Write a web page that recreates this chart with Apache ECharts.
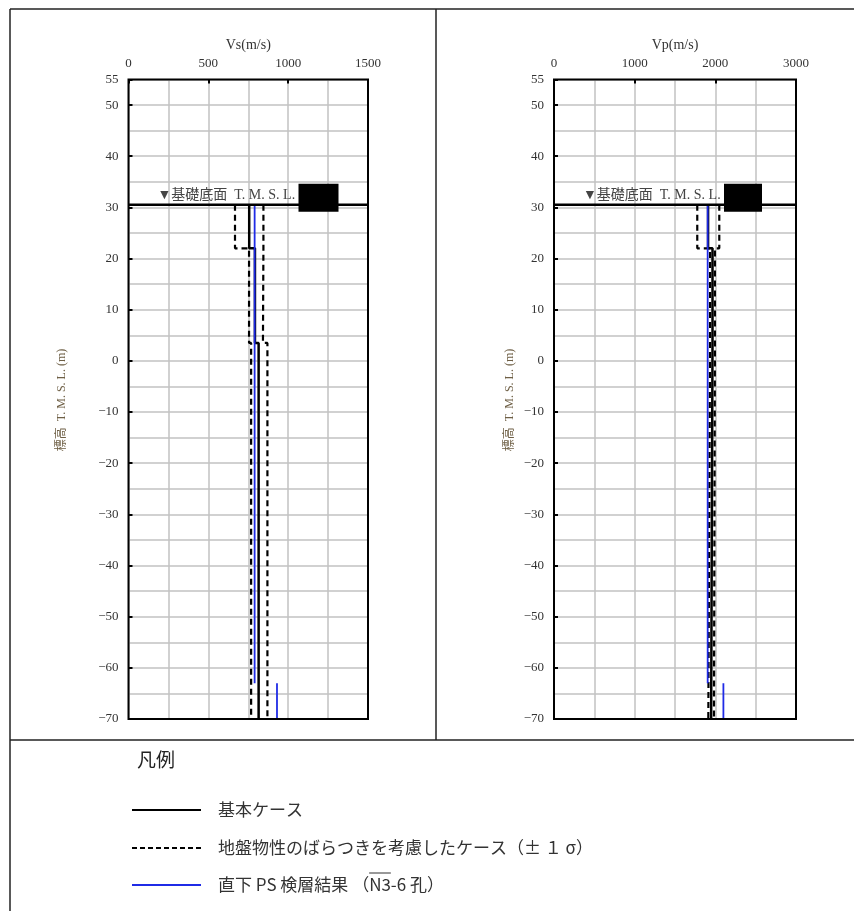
<!DOCTYPE html>
<html>
<head>
<meta charset="utf-8">
<script src="https://cdn.jsdelivr.net/npm/echarts@6/dist/echarts.min.js"></script>
<style>
html, body { margin: 0; padding: 0; background: #fff; }
#c { width: 854px; height: 911px; }
</style>
</head>
<body>
<div id="c"></div>
<script>
// Ground model layers, elevation T.M.S.L. (m)
const foundationLevel = 30.5;
const layerTops = [30.5, 22.0, 3.5];
const modelBottom = -70;

// Shear-wave velocity Vs (m/s) per layer
const vsBase  = [756, 792, 815];
const vsMinus = [667, 755, 768];
const vsPlus  = [845, 842, 870];

// P-wave velocity Vp (m/s) per layer
const vpBase  = [1910, 1965, 1948];
const vpMinus = [1776, 1935, 1913];
const vpPlus  = [2049, 1995, 1983];

// PS logging directly below (N3-6 borehole): interval tops / bottoms and values
const psTops    = [30.5, -63];
const psBottoms = [-63, -70];
const psVs = [790, 930];
const psVp = [1905, 2100];

// Axis ranges and labelled ticks
const vsRange = [0, 1500];
const vpRange = [0, 3000];
const depthRange = [-70, 55];
const depthTicks = [55, 50, 40, 30, 20, 10, 0, -10, -20, -30, -40, -50, -60, -70];

const LATIN = 'Liberation Serif';
const LABEL_FONT = '"Liberation Serif", "Noto Sans CJK JP"';
const JP = '"Noto Sans CJK JP"';

function stepProfile(vals) {
  const pts = [];
  vals.forEach((v, i) => {
    const top = layerTops[i];
    const bot = i + 1 < layerTops.length ? layerTops[i + 1] : modelBottom;
    pts.push([v, top], [v, bot]);
  });
  return pts;
}

function segments(tops, bots, vals) {
  const pts = [];
  vals.forEach((v, i) => {
    if (i) pts.push(['-', '-']);
    pts.push([v, tops[i]], [v, bots[i]]);
  });
  return pts;
}

const grids = [
  { left: 128.5, top: 79.5, width: 239.5, height: 639.5 },
  { left: 554, top: 79.5, width: 242, height: 639.5 }
];

const gridLine = { color: '#c2c2c2', width: 1.5 };

function xAxisFor(i, range, name) {
  return {
    gridIndex: i, type: 'value', position: 'top',
    min: range[0], max: range[1], interval: range[1] / 3,
    name: name, nameLocation: 'middle', nameGap: 27,
    nameTextStyle: { fontFamily: LATIN, fontSize: 14, color: '#333' },
    axisLine: { show: false, onZero: false },
    axisTick: { show: true, inside: true, length: 4, lineStyle: { color: '#000', width: 2 } },
    axisLabel: { fontFamily: LATIN, fontSize: 13, color: '#333', margin: 9,
      formatter: v => String(v) },
    splitLine: { show: true, lineStyle: gridLine },
    minorTick: { show: false, splitNumber: 2 },
    minorSplitLine: { show: true, lineStyle: gridLine }
  };
}

function yAxisFor(i) {
  return {
    gridIndex: i, type: 'value', position: 'left',
    min: depthRange[0], max: depthRange[1], interval: 5,
    axisLine: { show: false, onZero: false },
    axisTick: { show: false },
    axisLabel: {
      fontFamily: LATIN, fontSize: 13, color: '#333', margin: 10,
      formatter: v => depthTicks.indexOf(v) >= 0 ? String(v).replace('-', '\u2212') : ''
    },
    splitLine: { show: true, lineStyle: gridLine }
  };
}

// tick marks only at labelled elevations
function yTickAxisFor(i) {
  return {
    gridIndex: i, type: 'value', position: 'left', offset: 0,
    min: depthRange[0], max: depthRange[1],
    axisLine: { show: false, onZero: false },
    axisLabel: { show: false },
    splitLine: { show: false },
    axisTick: { show: true, inside: true, length: 4, customValues: depthTicks,
      lineStyle: { color: '#000', width: 2 } }
  };
}

function seriesFor(i, base, minus, plus, ps, range) {
  const common = { type: 'line', xAxisIndex: i, yAxisIndex: i, symbol: 'none',
    animation: false, silent: true };
  const dashed = { color: '#000', width: 2.2, type: [6, 4] };
  return [
    Object.assign({}, common, { name: '地盤物性のばらつきを考慮したケース（±１σ）',
      data: stepProfile(minus), lineStyle: dashed, z: 3 }),
    Object.assign({}, common, { name: '地盤物性のばらつきを考慮したケース（±１σ）',
      data: stepProfile(plus), lineStyle: dashed, z: 3 }),
    Object.assign({}, common, { name: '基本ケース',
      data: stepProfile(base), lineStyle: { color: '#000', width: 2.5 }, z: 4 }),
    Object.assign({}, common, { name: '直下PS検層結果',
      data: segments(psTops, psBottoms, ps), connectNulls: false,
      lineStyle: { color: '#1f2be6', width: 1.8 }, z: 5 }),
    Object.assign({}, common, { name: '基礎底面',
      data: [[range[0], foundationLevel], [range[1], foundationLevel]],
      lineStyle: { color: '#000', width: 2.5 }, z: 6 })
  ];
}

const chart = echarts.init(document.getElementById('c'), null, { renderer: 'canvas' });

chart.setOption({
  backgroundColor: '#fff',
  animation: false,
  grid: grids.map(g => Object.assign({ show: false }, g)),
  xAxis: [xAxisFor(0, vsRange, 'Vs(m/s)'), xAxisFor(1, vpRange, 'Vp(m/s)')],
  yAxis: [yAxisFor(0), yAxisFor(1), yTickAxisFor(0), yTickAxisFor(1)],
  series: [].concat(
    seriesFor(0, vsBase, vsMinus, vsPlus, psVs, vsRange),
    seriesFor(1, vpBase, vpMinus, vpPlus, psVp, vpRange)
  )
});

// Overlay: page frame, plot borders, foundation labels, axis titles, legend
const frame = { stroke: '#222', lineWidth: 1.5 };
const graphics = [
  { type: 'line', shape: { x1: 10, y1: 9, x2: 854, y2: 9 }, style: frame, silent: true },
  { type: 'line', shape: { x1: 10, y1: 9, x2: 10, y2: 911 }, style: frame, silent: true },
  { type: 'line', shape: { x1: 436, y1: 9, x2: 436, y2: 740 }, style: frame, silent: true },
  { type: 'line', shape: { x1: 10, y1: 740, x2: 854, y2: 740 }, style: frame, silent: true }
];

[0, 1].forEach(i => {
  const g = grids[i];
  graphics.push({
    type: 'rect', silent: true, z: 20,
    shape: { x: g.left, y: g.top, width: g.width, height: g.height },
    style: { fill: null, stroke: '#000', lineWidth: 2 }
  });

  // foundation label and masked elevation figure
  const p = chart.convertToPixel({ gridIndex: i }, [0, foundationLevel]);
  graphics.push({
    type: 'text', silent: true, z: 10,
    style: { x: g.left + 29, y: p[1] - 3, text: '▼基礎底面  T. M. S. L.', fill: '#444',
      font: '14px ' + LABEL_FONT, textAlign: 'left', textVerticalAlign: 'bottom' }
  });
  graphics.push({
    type: 'rect', silent: true, z: 11,
    shape: { x: g.left + 170, y: p[1] - 21, width: i ? 38 : 40, height: 28 },
    style: { fill: '#000' }
  });
});

// elevation axis titles
[62, 510].forEach(x => {
  graphics.push({
    type: 'text', silent: true, x: x, y: 400, rotation: Math.PI / 2,
    style: { x: 0, y: 0, text: '標高  T. M. S. L. (m)', fill: '#6e5f45',
      font: '12px ' + LABEL_FONT, textAlign: 'center', textVerticalAlign: 'middle' }
  });
});

// legend
const legendFont = '17px ' + JP;
graphics.push(
  { type: 'text', silent: true,
    style: { x: 137, y: 760, text: '凡例', fill: '#222', font: '19px ' + JP,
      textAlign: 'left', textVerticalAlign: 'middle' } },
  { type: 'line', silent: true, shape: { x1: 132, y1: 810, x2: 201, y2: 810 },
    style: { stroke: '#000', lineWidth: 2 } },
  { type: 'text', silent: true,
    style: { x: 218, y: 810, text: '基本ケース', fill: '#333', font: legendFont,
      textAlign: 'left', textVerticalAlign: 'middle' } },
  { type: 'line', silent: true, shape: { x1: 132, y1: 848, x2: 201, y2: 848 },
    style: { stroke: '#000', lineWidth: 2, lineDash: [5, 3] } },
  { type: 'text', silent: true,
    style: { x: 218, y: 848, text: '地盤物性のばらつきを考慮したケース（± １ σ）', fill: '#333',
      font: legendFont, textAlign: 'left', textVerticalAlign: 'middle' } },
  { type: 'line', silent: true, shape: { x1: 132, y1: 885, x2: 201, y2: 885 },
    style: { stroke: '#1f2be6', lineWidth: 2 } }
);

// PS legend entry with overlined borehole name
const ctx = document.createElement('canvas').getContext('2d');
const psParts = ['直下 PS 検層結果 （', 'N3', '-6 孔）'];
ctx.font = legendFont;
let tx = 218;
psParts.forEach((t, k) => {
  const w = ctx.measureText(t).width;
  graphics.push({ type: 'text', silent: true,
    style: { x: tx, y: 885, text: t, fill: '#333', font: legendFont,
      textAlign: 'left', textVerticalAlign: 'middle' } });
  if (k === 1) {
    graphics.push({ type: 'line', silent: true,
      shape: { x1: tx, y1: 873, x2: tx + w, y2: 873 },
      style: { stroke: '#333', lineWidth: 1 } });
  }
  tx += w;
});

chart.setOption({ graphic: graphics });
</script>
</body>
</html>
